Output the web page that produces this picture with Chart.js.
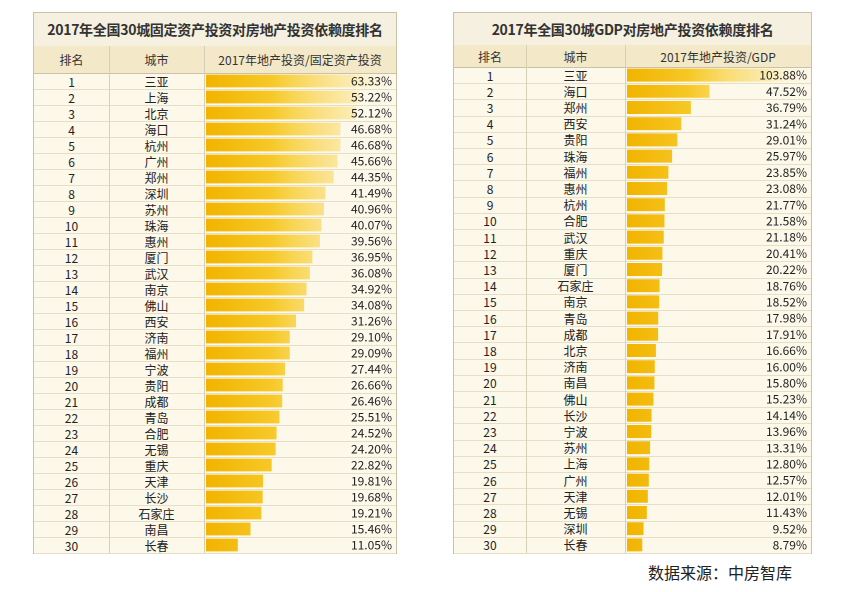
<!DOCTYPE html><html><head><meta charset="utf-8">
<script src="https://cdn.jsdelivr.net/npm/chart.js@4"></script>
<style>
body{margin:0;width:865px;height:592px;background:#fff;font-family:"Noto Sans CJK SC","Noto Sans",sans-serif;position:relative;overflow:hidden}
.tb{position:absolute;border:1px solid #c9c2a8;background:#fcf8ea}
.title{position:absolute;left:0;right:0;top:0;text-align:center;font-weight:bold;font-size:14px;letter-spacing:-0.3px;color:#333;background:#f5f0df;border-bottom:1px solid #c9c2a8;white-space:nowrap}
.hdr{position:absolute;left:0;right:0;background:#f3e9c9;font-size:12px;color:#333;border-bottom:1px solid #c9c2a8}
.row{position:absolute;left:0;right:0;font-size:12px;color:#222;border-bottom:1px solid #e6dfc6}
.c{position:absolute;top:0;bottom:0;text-align:center;border-right:1px solid #d8d0b4;display:flex;align-items:center;justify-content:center}
canvas{position:absolute}
.src{position:absolute;left:648px;top:560px;font-size:16px;color:#222}
</style></head><body>
<div class="src">数据来源：中房智库</div>
<script>
const titleL="2017年全国30城固定资产投资对房地产投资依赖度排名";
const titleR="2017年全国30城GDP对房地产投资依赖度排名";
const headL=["排名","城市","2017年地产投资/固定资产投资"];
const headR=["排名","城市","2017年地产投资/GDP"];
const citiesL=["三亚","上海","北京","海口","杭州","广州","郑州","深圳","苏州","珠海","惠州","厦门","武汉","南京","佛山","西安","济南","福州","宁波","贵阳","成都","青岛","合肥","无锡","重庆","天津","长沙","石家庄","南昌","长春"];
const valuesL=[63.33,53.22,52.12,46.68,46.68,45.66,44.35,41.49,40.96,40.07,39.56,36.95,36.08,34.92,34.08,31.26,29.10,29.09,27.44,26.66,26.46,25.51,24.52,24.20,22.82,19.81,19.68,19.21,15.46,11.05];
const citiesR=["三亚","海口","郑州","西安","贵阳","珠海","福州","惠州","杭州","合肥","武汉","重庆","厦门","石家庄","南京","青岛","成都","北京","济南","南昌","佛山","长沙","宁波","苏州","上海","广州","天津","无锡","深圳","长春"];
const valuesR=[103.88,47.52,36.79,31.24,29.01,25.97,23.85,23.08,21.77,21.58,21.18,20.41,20.22,18.76,18.52,17.98,17.91,16.66,16.00,15.80,15.23,14.14,13.96,13.31,12.80,12.57,12.01,11.43,9.52,8.79];

function build(o){
  const t=document.createElement('div');t.className='tb';
  Object.assign(t.style,{left:o.x+'px',top:o.y+'px',width:o.w+'px',height:o.h+'px'});
  document.body.appendChild(t);
  const ti=document.createElement('div');ti.className='title';ti.textContent=o.title;
  ti.style.height=o.th+'px';ti.style.lineHeight=o.th+'px';t.appendChild(ti);
  const mk=(cls,top,h,texts)=>{const r=document.createElement('div');r.className=cls;r.style.top=top+'px';r.style.height=h+'px';
    let x=0;texts.forEach((s,i)=>{const c=document.createElement('div');c.className='c';c.style.left=x+'px';c.style.width=o.cols[i]+'px';
      if(i==2){c.style.borderRight='none'}c.textContent=s;x+=o.cols[i];r.appendChild(c);});t.appendChild(r);};
  mk('hdr',o.th,o.hh,o.head);
  const rh=(o.h-o.th-o.hh)/30, top0=o.th+o.hh;
  o.cities.forEach((c,i)=>mk('row',top0+i*rh,rh,[String(i+1),c,'']));
  const cv=document.createElement('canvas');
  const cw=o.cols[2], ch=o.h-top0;
  cv.width=cw;cv.height=ch;
  cv.style.left=(o.cols[0]+o.cols[1])+'px';cv.style.top=top0+'px';cv.style.width=cw+'px';cv.style.height=ch+'px';
  t.appendChild(cv);
  new Chart(cv,{type:'bar',data:{labels:o.cities,datasets:[{data:o.values,
    backgroundColor:(ctx)=>{const a=ctx.chart.chartArea;if(!a)return '#f5b800';
      const g=ctx.chart.ctx.createLinearGradient(a.left,0,a.right,0);
      g.addColorStop(0,'#f2b400');g.addColorStop(0.35,'#f7c928');g.addColorStop(0.75,'rgba(250,225,130,0.6)');g.addColorStop(1,'rgba(255,250,235,0.1)');return g;},
    barPercentage:0.8,categoryPercentage:1}]},
    options:{indexAxis:'y',responsive:false,animation:false,maintainAspectRatio:false,devicePixelRatio:2,
      layout:{padding:{left:2,right:0,top:0,bottom:0}},
      plugins:{legend:{display:false},tooltip:{enabled:false}},
      scales:{x:{display:false,min:0,max:o.max},y:{display:false}}},
    plugins:[{id:'lbl',afterDatasetsDraw(ch){const c=ch.ctx;const m=ch.getDatasetMeta(0);c.save();
      c.font='12px "Noto Sans CJK SC","Noto Sans",sans-serif';c.fillStyle='#222';c.textAlign='right';c.textBaseline='middle';
      m.data.forEach((b,i)=>c.fillText(ch.data.datasets[0].data[i].toFixed(2)+'%',ch.chartArea.right-4,b.y));c.restore();}}]
  });
}
build({x:33,y:12,w:362,h:540,th:33,hh:27,cols:[75,95,192],title:titleL,head:headL,cities:citiesL,values:valuesL,max:66});
build({x:453,y:12,w:357,h:540,th:32,hh:22,cols:[72,99,186],title:titleR,head:headR,cities:citiesR,values:valuesR,max:106});
</script></body></html>
